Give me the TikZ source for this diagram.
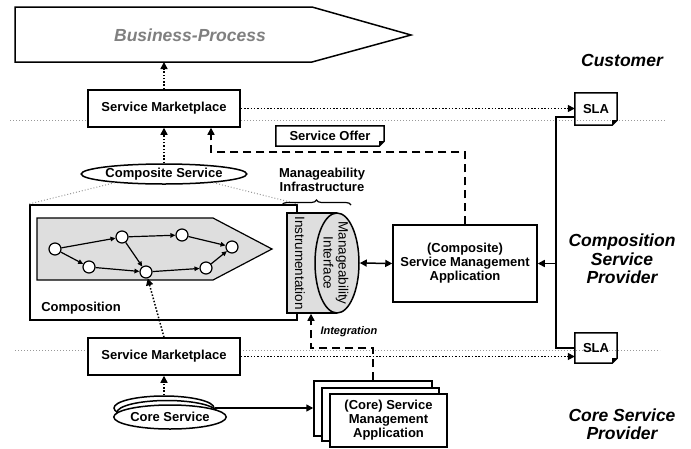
\documentclass[tikz,border=0pt]{standalone}
\usepackage{fontspec}
\setmainfont{Liberation Sans}
\usetikzlibrary{arrows.meta,decorations.pathreplacing,shapes.geometric,calc}
\begin{document}
\begin{tikzpicture}[x=1pt,y=-1pt,
  bfont/.style={font=\bfseries\fontsize{13}{14}\selectfont},
  box/.style={draw,line width=1.5pt,fill=white,bfont,align=center,inner sep=0pt},
  lbl/.style={font=\bfseries\itshape\fontsize{17.5}{18.5}\selectfont,align=center},
  tip/.style={-{Triangle[length=7pt,width=7pt]}},
  dotl/.style={line width=1.5pt,dash pattern=on 1.5pt off 1.8pt},
  dashl/.style={line width=1.5pt,dash pattern=on 8pt off 5pt},
  gdot/.style={black!40,line width=1pt,dash pattern=on 1pt off 2pt},
  solidl/.style={line width=1.5pt},
  gnode/.style={circle,draw,line width=1.2pt,fill=white,minimum size=12pt,inner sep=0pt},
  gedge/.style={line width=1.2pt,-{Triangle[length=5pt,width=4.5pt]}},
  rtext/.style={font=\fontsize{13.5}{15}\selectfont,align=center,rotate=-90},
]
\useasboundingbox (0,0) rectangle (691,448);

% layer separators
\draw[gdot] (10,120) -- (665,120);
\draw[gdot] (15,350) -- (660,350);

% business process
\draw[line width=1.5pt,fill=white] (15,7) -- (312,7) -- (411,35) -- (312,62) -- (15,62) -- cycle;
\node[font=\bfseries\itshape\fontsize{17.5}{18.5}\selectfont,text=black!50] (bp) at (190,35) {Business-Process};
\coordinate (bpb) at (164,62);

% labels
\node[lbl] (cust) at (622,60) {Customer};
\node[lbl] (csp) at (622,259) {Composition\\Service\\Provider};
\node[lbl] (cspr) at (622,424) {Core Service\\Provider};

% top marketplace
\node[box,minimum width=152pt,minimum height=37pt] (sm1) at (164,108.5) {Service Marketplace};
\draw[dotl,tip] (sm1.north) -- (bpb);

% SLA 1
\node[bfont,minimum width=42pt,minimum height=32pt,inner sep=0pt] (sla1) at (596,109) {SLA};
\draw[line width=1.5pt] (sla1.north west) -- (sla1.north east) -- ([yshift=5pt]sla1.south east) -- ([xshift=-5pt]sla1.south east) -- (sla1.south west) -- cycle;
\fill ([yshift=5pt]sla1.south east) -- ([xshift=-5pt]sla1.south east) -- ([xshift=-5pt,yshift=5pt]sla1.south east) -- cycle;
\draw[dotl,tip] (sm1.east) -- (sla1.west |- sm1.east);

% Service offer
\node[bfont,minimum width=108pt,minimum height=20pt,inner sep=0pt] (so) at (330,136) {Service Offer};
\draw[line width=1.5pt] (so.north west) -- (so.north east) -- ([yshift=5pt]so.south east) -- ([xshift=-5pt]so.south east) -- (so.south west) -- cycle;
\fill ([yshift=5pt]so.south east) -- ([xshift=-5pt]so.south east) -- ([xshift=-5pt,yshift=5pt]so.south east) -- cycle;

% Composite service
\node[ellipse,draw,line width=1.5pt,fill=white,minimum width=162pt,minimum height=20pt,inner sep=0pt,bfont] (cs) at (164,174) {Composite Service};
\draw[dotl,tip] (cs.north) -- (sm1.south);

% Composition box
\node[draw,line width=2pt,minimum width=267pt,minimum height=115pt,inner sep=0pt] (comp) at (163.5,262.5) {};
\draw[gdot] (cs.190) -- (comp.north west);
\draw[gdot] (cs.-10) -- (comp.north east);
\node[bfont] (compl) at (81,308) {Composition};
\draw[line width=1.2pt,fill=black!13] (37,218) -- (213,218) -- (272,249) -- (213,280) -- (37,280) -- cycle;

\node[gnode] (n1) at (55,249) {};
\node[gnode] (n2) at (89,267) {};
\node[gnode] (n3) at (122,237) {};
\node[gnode] (n4) at (146,272) {};
\node[gnode] (n5) at (182,235) {};
\node[gnode] (n6) at (206,268) {};
\node[gnode] (n7) at (232,247) {};
\draw[gedge] (n1) -- (n3);
\draw[gedge] (n1) -- (n2);
\draw[gedge] (n2) -- (n4);
\draw[gedge] (n3) -- (n5);
\draw[gedge] (n3) -- (n4);
\draw[gedge] (n4) -- (n6);
\draw[gedge] (n5) -- (n7);
\draw[gedge] (n6) -- (n7);

% cylinder
\fill[black!13] (287,213) rectangle (337,313);
\draw[line width=1.5pt] (337,213) -- (287,213) -- (287,313) -- (337,313);
\node[ellipse,draw,line width=1.5pt,fill=black!13,minimum width=44pt,minimum height=100pt,inner sep=0pt] (mi) at (337,263) {};
\node[rtext] (instr) at (300,263) {Instrumentation};
\node[rtext] (mit) at (336,263) {Manageability\\Interface};

% brace
\draw[decorate,decoration={brace,amplitude=5pt},line width=1.2pt] (282,205) -- (351,205);
\node[bfont,align=center] (mitl) at (322,180) {Manageability\\Infrastructure};

% composite SMA
\node[box,minimum width=144pt,minimum height=77pt] (csma) at (465,263.5) {(Composite)\\Service Management\\Application};
\draw[solidl,{Triangle[length=7pt,width=7pt]}-{Triangle[length=7pt,width=7pt]}] (mi.east) -- (csma.west);

\coordinate (soe) at (211,152);
\draw[dashl,tip] (csma.north) |- (soe) -- (sm1.south -| soe);

% lower marketplace
\node[box,minimum width=152pt,minimum height=37pt] (sm2) at (164,356.5) {Service Marketplace};
\draw[dotl,tip] (sm2.north) -- (n4);

% SLA 2
\node[bfont,minimum width=42pt,minimum height=30pt,inner sep=0pt] (sla2) at (596,348) {SLA};
\draw[line width=1.5pt] (sla2.north west) -- (sla2.north east) -- ([yshift=5pt]sla2.south east) -- ([xshift=-5pt]sla2.south east) -- (sla2.south west) -- cycle;
\fill ([yshift=5pt]sla2.south east) -- ([xshift=-5pt]sla2.south east) -- ([xshift=-5pt,yshift=5pt]sla2.south east) -- cycle;
\draw[dotl,tip] (sm2.east) -- (sla2.west |- sm2.east);

% SLA connectors
\coordinate (j1) at (556,117);
\coordinate (j2) at (556,348);
\draw[solidl] (sla1.west |- j1) -- (j1) -- (j2) -- (sla2.west);
\draw[solidl,tip] (j1 |- csma.east) -- (csma.east);

% core services
\node[ellipse,draw,line width=1.5pt,fill=white,minimum width=100pt,minimum height=24pt,inner sep=0pt] (cs3) at (164,408) {};
\node[ellipse,draw,line width=1.5pt,fill=white,minimum width=100pt,minimum height=24pt,inner sep=0pt] (cs2) at (167,412.5) {};
\node[ellipse,draw,line width=1.5pt,fill=white,minimum width=100pt,minimum height=24pt,inner sep=0pt,bfont] (cs1) at (170,417) {Core Service};
\draw[dotl,tip] (cs3.north) -- (sm2.south);

% core SMA
\node[draw,line width=1.5pt,fill=white,minimum width=118pt,minimum height=55pt,inner sep=0pt] (cb3) at (373,408.5) {};
\node[draw,line width=1.5pt,fill=white,minimum width=117pt,minimum height=53pt,inner sep=0pt] (cb2) at (380.5,414.5) {};
\node[box,minimum width=117pt,minimum height=53pt] (cb1) at (388.5,420.5) {(Core) Service\\Management\\Application};
\draw[solidl,tip] (cs3.east) -- (cb3.west |- cs3.east);

% integration
\coordinate (i1) at (373,348);
\coordinate (i2) at (311,348);
\draw[dashl,tip] (cb3.north -| i1) -- (i1) -- (i2) -- (i2 |- mi.south);
\node[font=\bfseries\itshape\fontsize{11}{12}\selectfont,anchor=west] (integ) at (317,332) {Integration};
\end{tikzpicture}
\end{document}
